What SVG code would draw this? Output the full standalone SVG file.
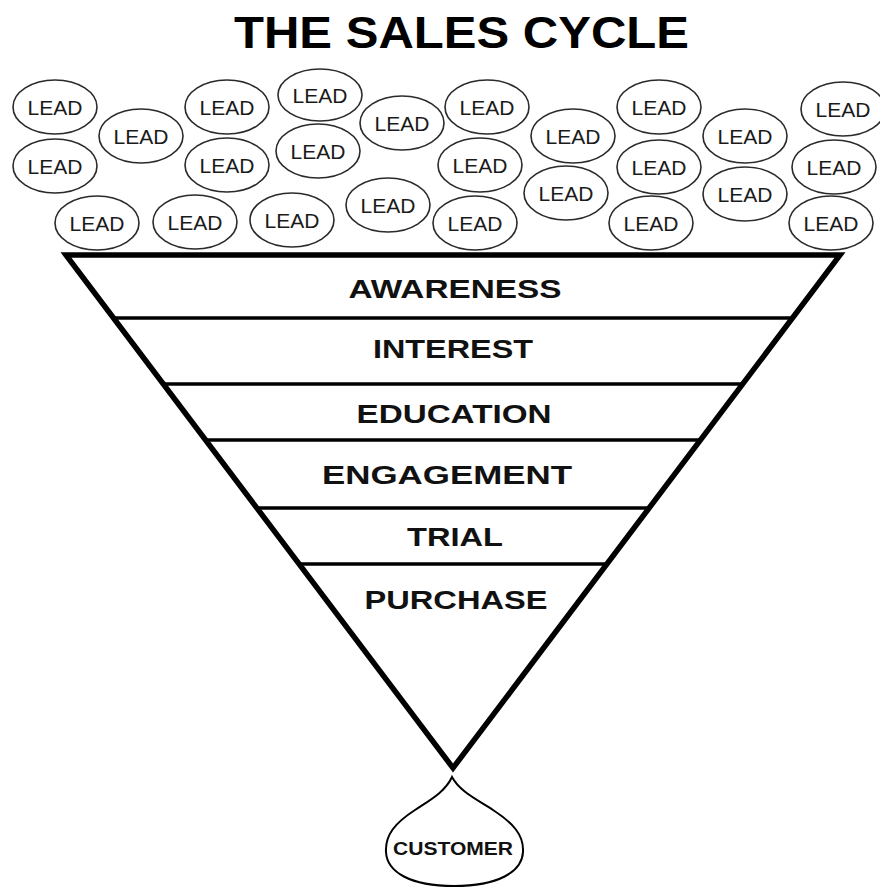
<svg xmlns="http://www.w3.org/2000/svg" width="880" height="888" viewBox="0 0 880 888">
<style>
  .lead ellipse { fill: #fff; stroke: #2a2a2a; stroke-width: 1.6; }
  .lead text { font-family: "Liberation Sans", Arial, sans-serif; font-size: 21px; fill: #1a1a1a; text-anchor: middle; }
  .stage text { font-family: "Liberation Sans", Arial, sans-serif; font-weight: bold; font-size: 26.5px; fill: #111; text-anchor: middle; }
  .title { font-family: "Liberation Sans", Arial, sans-serif; font-weight: bold; font-size: 44px; fill: #000; }
  .side { stroke: #000; stroke-width: 5.5; stroke-linecap: round; fill: none; }
  .div { stroke: #000; stroke-width: 3.5; fill: none; }
</style>
<rect width="880" height="888" fill="#fff"/>
<text class="title" x="234" y="48" textLength="455" lengthAdjust="spacingAndGlyphs">THE SALES CYCLE</text>

<g id="leads">
  <g id="lead1" class="lead"><ellipse cx="55" cy="107" rx="42" ry="27"/><text x="55" y="115">LEAD</text></g>
  <g id="lead2" class="lead"><ellipse cx="141" cy="136" rx="42" ry="27"/><text x="141" y="144">LEAD</text></g>
  <g id="lead3" class="lead"><ellipse cx="227" cy="107" rx="42" ry="27"/><text x="227" y="115">LEAD</text></g>
  <g id="lead4" class="lead"><ellipse cx="320" cy="95" rx="42" ry="26"/><text x="320" y="103">LEAD</text></g>
  <g id="lead5" class="lead"><ellipse cx="402" cy="123" rx="42" ry="27"/><text x="402" y="131">LEAD</text></g>
  <g id="lead6" class="lead"><ellipse cx="487" cy="107" rx="42" ry="27"/><text x="487" y="115">LEAD</text></g>
  <g id="lead7" class="lead"><ellipse cx="55" cy="166" rx="42" ry="27"/><text x="55" y="174">LEAD</text></g>
  <g id="lead8" class="lead"><ellipse cx="227" cy="165" rx="42" ry="27"/><text x="227" y="173">LEAD</text></g>
  <g id="lead9" class="lead"><ellipse cx="318" cy="151" rx="42" ry="27"/><text x="318" y="159">LEAD</text></g>
  <g id="lead10" class="lead"><ellipse cx="480" cy="165" rx="42" ry="27"/><text x="480" y="173">LEAD</text></g>
  <g id="lead11" class="lead"><ellipse cx="573" cy="136" rx="42" ry="27"/><text x="573" y="144">LEAD</text></g>
  <g id="lead12" class="lead"><ellipse cx="659" cy="107" rx="42" ry="27"/><text x="659" y="115">LEAD</text></g>
  <g id="lead13" class="lead"><ellipse cx="659" cy="167" rx="42" ry="27"/><text x="659" y="175">LEAD</text></g>
  <g id="lead14" class="lead"><ellipse cx="745" cy="136" rx="42" ry="27"/><text x="745" y="144">LEAD</text></g>
  <g id="lead15" class="lead"><ellipse cx="745" cy="194" rx="42" ry="27"/><text x="745" y="202">LEAD</text></g>
  <g id="lead16" class="lead"><ellipse cx="843" cy="109" rx="42" ry="27"/><text x="843" y="117">LEAD</text></g>
  <g id="lead17" class="lead"><ellipse cx="834" cy="167" rx="42" ry="27"/><text x="834" y="175">LEAD</text></g>
  <g id="lead18" class="lead"><ellipse cx="831" cy="223" rx="42" ry="27"/><text x="831" y="231">LEAD</text></g>
  <g id="lead19" class="lead"><ellipse cx="97" cy="223" rx="42" ry="27"/><text x="97" y="231">LEAD</text></g>
  <g id="lead20" class="lead"><ellipse cx="195" cy="222" rx="42" ry="27"/><text x="195" y="230">LEAD</text></g>
  <g id="lead21" class="lead"><ellipse cx="292" cy="220" rx="42" ry="27"/><text x="292" y="228">LEAD</text></g>
  <g id="lead22" class="lead"><ellipse cx="388" cy="205" rx="42" ry="27"/><text x="388" y="213">LEAD</text></g>
  <g id="lead23" class="lead"><ellipse cx="475" cy="223" rx="42" ry="27"/><text x="475" y="231">LEAD</text></g>
  <g id="lead24" class="lead"><ellipse cx="566" cy="193" rx="42" ry="27"/><text x="566" y="201">LEAD</text></g>
  <g id="lead25" class="lead"><ellipse cx="651" cy="223" rx="42" ry="27"/><text x="651" y="231">LEAD</text></g>
</g>

<g id="funnel">
  <path class="side" d="M66,255 L453,768 L840,255 Z" stroke-linejoin="miter"/>
  <line class="div" x1="66" y1="255" x2="840" y2="255" stroke-width="5"/>
  <line class="div" x1="114" y1="318" x2="792" y2="318"/>
  <line class="div" x1="164" y1="384" x2="742" y2="384"/>
  <line class="div" x1="206" y1="440" x2="700" y2="440"/>
  <line class="div" x1="258" y1="508" x2="648" y2="508"/>
  <line class="div" x1="300" y1="564" x2="606" y2="564"/>
</g>

<g id="stages" class="stage">
  <g id="awareness"><text x="455" y="298" textLength="213" lengthAdjust="spacingAndGlyphs">AWARENESS</text></g>
  <g id="interest"><text x="453" y="358" textLength="160" lengthAdjust="spacingAndGlyphs">INTEREST</text></g>
  <g id="education"><text x="454" y="423" textLength="195" lengthAdjust="spacingAndGlyphs">EDUCATION</text></g>
  <g id="engagement"><text x="447" y="484" textLength="250" lengthAdjust="spacingAndGlyphs">ENGAGEMENT</text></g>
  <g id="trial"><text x="455" y="546" textLength="96" lengthAdjust="spacingAndGlyphs">TRIAL</text></g>
  <g id="purchase"><text x="456" y="609" textLength="183" lengthAdjust="spacingAndGlyphs">PURCHASE</text></g>
</g>

<g id="customer">
  <path d="M452,777 C445,792 430,800 415,810 C395,823 385,835 386,852 C387,872 410,886 454,886 C498,886 522,872 523,852 C524,835 513,823 493,810 C478,800 460,792 452,777 Z" fill="#fff" stroke="#000" stroke-width="2"/>
  <text x="453" y="855" textLength="120" lengthAdjust="spacingAndGlyphs" style="font-family:'Liberation Sans', Arial, sans-serif; font-weight:bold; font-size:18px; fill:#111; text-anchor:middle;">CUSTOMER</text>
</g>
</svg>
